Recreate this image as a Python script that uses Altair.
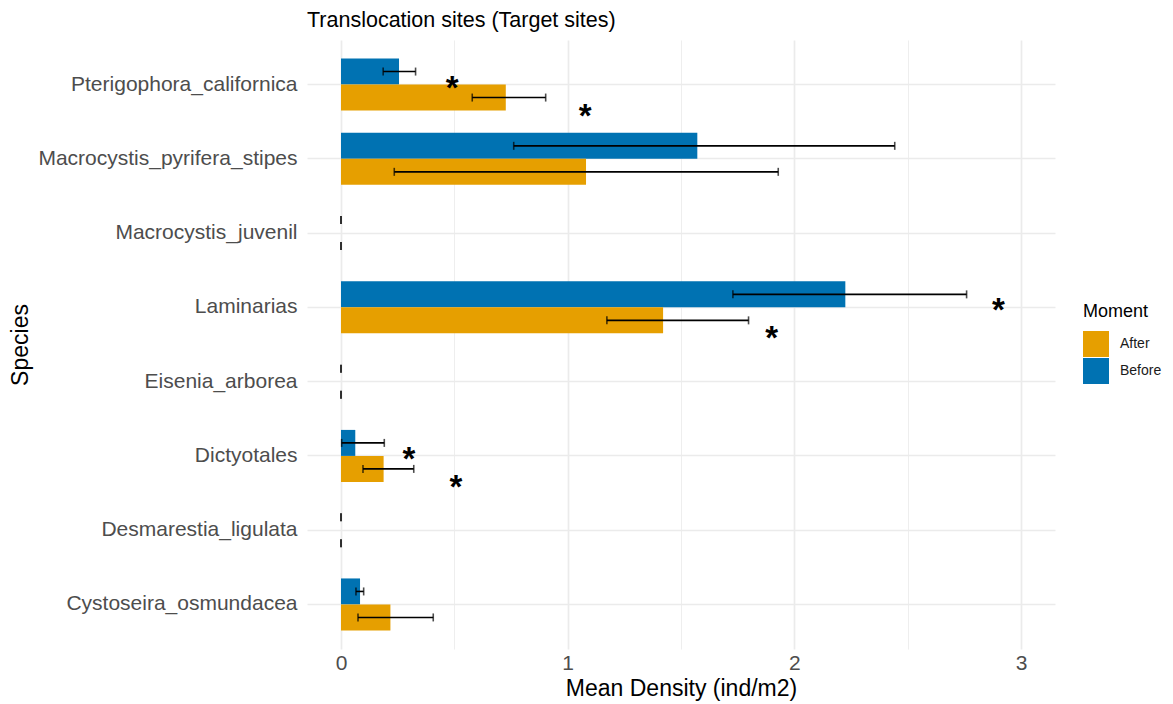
import altair as alt
import pandas as pd

species = ["Pterigophora_californica", "Macrocystis_pyrifera_stipes", "Macrocystis_juvenil",
           "Laminarias", "Eisenia_arborea", "Dictyotales", "Desmarestia_ligulata",
           "Cystoseira_osmundacea"]

before_mean = [0.256, 1.572, 0.0, 2.225, 0.0, 0.063, 0.0, 0.084]
before_lo = [0.186, 0.762, 0.0, 1.729, 0.0, 0.003, 0.0, 0.066]
before_hi = [0.329, 2.443, 0.0, 2.760, 0.0, 0.191, 0.0, 0.100]

after_mean = [0.727, 1.081, 0.0, 1.421, 0.0, 0.188, 0.0, 0.218]
after_lo = [0.579, 0.235, 0.0, 1.173, 0.0, 0.097, 0.0, 0.075]
after_hi = [0.903, 1.929, 0.0, 1.798, 0.0, 0.321, 0.0, 0.407]

star_species = ["Pterigophora_californica", "Laminarias", "Dictyotales"]
star_x_upper = [0.49, 2.90, 0.30]
star_x_lower = [1.077, 1.90, 0.507]

x_ticks = [0, 0.5, 1, 1.5, 2, 2.5, 3]

rows = []
for i, s in enumerate(species):
    rows.append({"Species": s, "Moment": "Before", "mean": before_mean[i], "lo": before_lo[i], "hi": before_hi[i]})
    rows.append({"Species": s, "Moment": "After", "mean": after_mean[i], "lo": after_lo[i], "hi": after_hi[i]})
df = pd.DataFrame(rows)

stars_up = pd.DataFrame({"Species": star_species, "x": star_x_upper, "lab": ["*"] * 3})
stars_lo = pd.DataFrame({"Species": star_species, "x": star_x_lower, "lab": ["*"] * 3})

FONT = "Liberation Sans"
xscale = alt.Scale(domain=[-0.15, 3.15], nice=False, zero=False)
yscale = alt.Scale(domain=species, paddingInner=0, paddingOuter=0.1)
yoff_scale = alt.Scale(domain=["Before", "After"], paddingInner=0, paddingOuter=0.4286)

x_axis = alt.Axis(values=x_ticks,
                  labelExpr="datum.value % 1 === 0 ? format(datum.value, 'd') : ''",
                  title="Mean Density (ind/m2)", domain=False, ticks=False,
                  gridColor="#EBEBEB",
                  gridWidth={"condition": {"test": "datum.value % 1 === 0", "value": 1.7}, "value": 0.85},
                  labelFontSize=21, labelColor="#4D4D4D", labelPadding=3,
                  titleFontSize=23, titleColor="#000000", titleFontWeight="normal", titlePadding=4)
y_axis = alt.Axis(title="Species", domain=False, ticks=False, grid=True, bandPosition=0.5,
                  gridColor="#EBEBEB", gridWidth=1.7,
                  labelFontSize=21, labelColor="#4D4D4D", labelPadding=10, labelLimit=400,
                  titleFontSize=23, titleColor="#000000", titleFontWeight="normal",
                  titleX=-287, titleBaseline="middle", titleAlign="center")

base = alt.Chart(df)
bars = base.mark_bar().encode(
    y=alt.Y("Species:N", scale=yscale, axis=y_axis, sort=species),
    yOffset=alt.YOffset("Moment:N", scale=yoff_scale, sort=["Before", "After"]),
    x=alt.X("mean:Q", scale=xscale, axis=x_axis),
    x2=alt.X2(datum=0),
    color=alt.Color("Moment:N", scale=alt.Scale(domain=["After", "Before"], range=["#E69F00", "#0072B2"]),
                    legend=alt.Legend(title="Moment", orient="none", legendX=776, legendY=263,
                                      titleFontSize=18, titleFontWeight="normal",
                                      titleColor="#000000", labelFontSize=14, labelColor="#1A1A1A",
                                      symbolType="square", symbolSize=676, symbolStrokeWidth=0,
                                      symbolOpacity=1,
                                      rowPadding=1, labelOffset=11, titlePadding=10,
                                      padding=0))
)
err = base.mark_rule(color="black", strokeWidth=1.6).encode(
    y=alt.Y("Species:N", scale=yscale, sort=species),
    yOffset=alt.YOffset("Moment:N", scale=yoff_scale, sort=["Before", "After"]),
    x=alt.X("lo:Q", scale=xscale),
    x2="hi:Q",
)
cap_lo = base.mark_tick(color="black", thickness=1.6, size=8).encode(
    y=alt.Y("Species:N", scale=yscale, sort=species),
    yOffset=alt.YOffset("Moment:N", scale=yoff_scale, sort=["Before", "After"]),
    x=alt.X("lo:Q", scale=xscale),
)
cap_hi = base.mark_tick(color="black", thickness=1.6, size=8).encode(
    y=alt.Y("Species:N", scale=yscale, sort=species),
    yOffset=alt.YOffset("Moment:N", scale=yoff_scale, sort=["Before", "After"]),
    x=alt.X("hi:Q", scale=xscale),
)
st_up = alt.Chart(stars_up).mark_text(fontSize=33, font=FONT, fontWeight="bold", baseline="alphabetic",
                                      dy=14, color="black").encode(
    y=alt.Y("Species:N", scale=yscale, sort=species),
    x=alt.X("x:Q", scale=xscale),
    text="lab:N",
)
st_lo = alt.Chart(stars_lo).mark_text(fontSize=33, font=FONT, fontWeight="bold", baseline="alphabetic",
                                      dy=42, color="black").encode(
    y=alt.Y("Species:N", scale=yscale, sort=species),
    x=alt.X("x:Q", scale=xscale),
    text="lab:N",
)

chart = alt.layer(bars, err, cap_lo, cap_hi, st_up, st_lo).properties(
    width=748, height=609,
    title=alt.Title("Translocation sites (Target sites)", anchor="start", frame="group", fontSize=21.5,
                    fontWeight="normal", color="#000000", font=FONT, offset=9),
    autosize=alt.AutoSizeParams(type="none"),
    padding={"left": 299, "top": 32, "right": 110, "bottom": 56},
).configure(font=FONT).configure_view(strokeWidth=0, stroke="transparent")

chart.save("out.html", embed_options={"renderer": "svg", "actions": False})
